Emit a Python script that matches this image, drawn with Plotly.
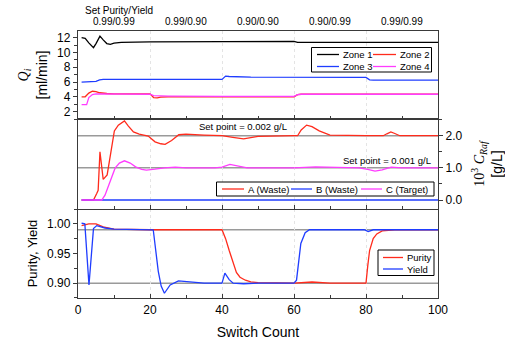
import plotly.graph_objects as go

# ---------------- data ----------------
# Top panel: flow rates Q_i [ml/min]
z1_x = [1, 2, 3, 4.3, 5, 6.1, 7, 8, 9, 10, 12, 20, 40, 60, 61, 100]
z1_y = [12.0, 11.9, 11.3, 10.65, 11.2, 12.2, 11.7, 11.2, 11.1, 11.25, 11.35, 11.42, 11.47, 11.5, 11.35, 11.35]
z2_x = [1, 2, 3, 4, 5, 6, 8, 10, 20, 21, 22, 23, 25, 60, 61, 62, 100]
z2_y = [4.0, 4.0, 4.5, 4.75, 4.7, 4.55, 4.45, 4.4, 4.4, 3.9, 3.85, 3.95, 4.0, 4.0, 4.3, 4.35, 4.35]
z3_x = [1, 4, 5, 6, 7, 40, 41, 42, 48, 80, 81, 82, 100]
z3_y = [6.0, 6.0, 6.1, 6.3, 6.35, 6.35, 6.8, 6.75, 6.65, 6.62, 6.3, 6.26, 6.26]
z4_x = [1, 2.4, 3, 4, 5, 10, 20, 21, 25, 40, 60, 61, 62, 100]
z4_y = [2.95, 2.95, 3.9, 4.3, 4.4, 4.35, 4.35, 4.15, 4.1, 4.05, 4.05, 4.3, 4.35, 4.35]

# Middle panel: 10^3 C_Raf [g/L]
a_x = [1, 4.3, 5.2, 5.6, 6.1, 7, 8.1, 9, 10.1, 11.2, 12.9, 14, 15.4, 17, 19.5, 21.4, 23, 24.2, 26, 28, 30,
       35, 40, 43, 46, 50, 55, 60, 61, 62, 63.5, 65, 67, 70, 80, 84.8, 85.8, 86.9, 88, 89.4, 100]
a_y = [0, 0, 0.2, 0.3, 1.5, 0.64, 0.78, 1.45, 2.15, 2.33, 2.46, 2.3, 2.12, 2.05, 1.99, 1.81, 1.75, 1.73, 1.85, 2.03, 2.05,
       2.02, 2.0, 1.95, 1.9, 1.98, 2.0, 2.0, 2.0, 2.18, 2.33, 2.28, 2.15, 2.02, 2.0, 2.0, 2.06, 2.12, 2.07, 2.0, 2.0]
b_x = [1, 20, 40, 60, 80, 100]
b_y = [0, 0, 0, 0, 0, 0]
c_x = [1, 6.6, 7.5, 8.5, 10.3, 11.5, 12.9, 14.5, 16, 17.7, 19, 21.4, 24, 27, 30, 38, 40, 42.2, 44, 47,
       55, 60, 66, 70, 75, 78, 80.5, 82.5, 84.5, 87, 90, 100]
c_y = [0, 0, 0.15, 0.45, 0.99, 1.15, 1.22, 1.15, 1.03, 0.95, 0.93, 0.96, 1.0, 1.02, 1.0, 1.0, 1.02, 1.11, 1.06, 1.0,
       1.0, 1.0, 1.03, 1.02, 1.0, 1.0, 0.95, 0.9, 0.94, 1.02, 1.0, 1.0]

# Bottom panel: purity & yield
pur_x = [1, 2, 3, 5, 7, 10, 20, 40, 41, 42, 43, 44, 45, 46.5, 48, 50, 60, 65, 70, 80, 80.5, 81, 82, 83, 84.5, 86, 88, 100]
pur_y = [0.997, 0.998, 1.0, 1.0, 0.995, 0.991, 0.99, 0.99, 0.975, 0.955, 0.935, 0.918, 0.91, 0.905, 0.902, 0.901,
         0.9, 0.902, 0.9, 0.9, 0.93, 0.955, 0.975, 0.983, 0.988, 0.989, 0.99, 0.99]
yld_x = [1, 1.9, 3.05, 4.3, 5.2, 7.5, 10, 20.9, 22.3, 23.1, 24, 25.6, 27.9, 30.6, 35, 40, 40.8, 42, 43.1, 46, 50,
         60, 60.7, 61.9, 63.1, 64.3, 70, 79.5, 80.6, 82, 100]
yld_y = [1.001, 1.0, 0.897, 0.992, 0.997, 0.993, 0.991, 0.99, 0.92, 0.895, 0.883, 0.897, 0.904, 0.902, 0.9, 0.9,
         0.917, 0.906, 0.9, 0.899, 0.9, 0.9, 0.905, 0.967, 0.985, 0.99, 0.99, 0.99, 0.987, 0.99, 0.99]

conc_setpoints = [2.0, 1.0]
py_setpoints = [0.99, 0.90]
segment_centers = [10, 30, 50, 70, 90]
segment_labels = ["0.99/0.99", "0.99/0.90", "0.90/0.90", "0.90/0.99", "0.99/0.99"]

# ---------------- style ----------------
BLACK = "#000000"
RED = "#ff2b1c"
BLUE = "#1f3dff"
MAG = "#ff3cff"
FONT = "Liberation Sans"
LW = 1.3
AXC = "#3a3a3a"

# plot-area geometry in pixels (for legend placement)
W, H = 505, 344
ML, MR, MT, MB = 78, 67, 31, 46
PW, PH = W - ML - MR, H - MT - MB


def px(xp):
    return (xp - ML) / PW


def py(yp):
    return (H - MB - yp) / PH


fig = go.Figure()

series = [
    # name, x, y, color, xaxis, yaxis
    ("Zone 1", z1_x, z1_y, BLACK, "x3", "y3"),
    ("Zone 2", z2_x, z2_y, RED, "x3", "y3"),
    ("Zone 4", z4_x, z4_y, MAG, "x3", "y3"),
    ("Zone 3", z3_x, z3_y, BLUE, "x3", "y3"),
    ("A (Waste)", a_x, a_y, RED, "x2", "y2"),
    ("B (Waste)", b_x, b_y, BLUE, "x2", "y2"),
    ("C (Target)", c_x, c_y, MAG, "x2", "y2"),
    ("Purity", pur_x, pur_y, RED, "x", "y"),
    ("Yield", yld_x, yld_y, BLUE, "x", "y"),
]
for name, xs, ys, col, xa, ya in series:
    fig.add_trace(go.Scatter(x=xs, y=ys, mode="lines", name=name, line=dict(color=col, width=LW),
                             xaxis=xa, yaxis=ya, showlegend=False))

shapes = []
annotations = []
for v in conc_setpoints:
    shapes.append(dict(type="line", xref="x2 domain", yref="y2", x0=0, x1=1, y0=v, y1=v,
                       line=dict(color="#9a9a9a", width=1.5), layer="below"))
for v in py_setpoints:
    shapes.append(dict(type="line", xref="x domain", yref="y", x0=0, x1=1, y0=v, y1=v,
                       line=dict(color="#9a9a9a", width=1.5), layer="below"))

LEG_FONT = 9.5


def draw_legend(box, items):
    """box = (x0, y0, x1, y1) in px; items = list of (name, color, line_x0, line_x1, text_x, row_y) px."""
    x0, y0, x1, y1 = box
    shapes.append(dict(type="rect", xref="paper", yref="paper", x0=px(x0), x1=px(x1), y0=py(y1), y1=py(y0),
                       line=dict(color=BLACK, width=1), fillcolor="white", layer="above"))
    for name, col, lx0, lx1, tx, ry in items:
        shapes.append(dict(type="line", xref="paper", yref="paper", x0=px(lx0), x1=px(lx1), y0=py(ry), y1=py(ry),
                           line=dict(color=col, width=1.3), layer="above"))
        annotations.append(dict(text=name, xref="paper", yref="paper", x=px(tx), y=py(ry), xanchor="left",
                                yanchor="middle", showarrow=False, font=dict(size=LEG_FONT, color=BLACK)))


draw_legend((311.5, 47.5, 431.5, 72),
            [("Zone 1", BLACK, 317, 339, 341, 54.5), ("Zone 2", RED, 373, 396, 398, 54.5),
             ("Zone 3", BLUE, 317, 339, 341, 66.5), ("Zone 4", MAG, 373, 396, 398, 66.5)])
draw_legend((216.5, 182, 434, 196),
            [("A (Waste)", RED, 222, 244, 246, 189), ("B (Waste)", BLUE, 291, 312, 314, 189),
             ("C (Target)", MAG, 361, 382, 384, 189)])
draw_legend((378, 250, 434, 275.5),
            [("Purity", RED, 383, 403, 405, 257.5), ("Yield", BLUE, 383, 403, 405, 269)])

annotations.append(dict(text="Set Purity/Yield", xref="paper", yref="paper", x=px(83), y=py(10), xanchor="left",
                        yanchor="middle", showarrow=False, font=dict(size=10, color=BLACK)))
for xc, lab in zip(segment_centers, segment_labels):
    annotations.append(dict(text=lab, xref="x3", yref="paper", x=xc, y=py(21.5), xanchor="center",
                            yanchor="middle", showarrow=False, font=dict(size=10, color=BLACK)))
annotations.append(dict(text="Set point = 0.002 g/L", xref="x2", yref="y2", x=45.8, y=conc_setpoints[0] + 0.28,
                        xanchor="center", yanchor="middle", showarrow=False, font=dict(size=9.5, color=BLACK)))
annotations.append(dict(text="Set point = 0.001 g/L", xref="x2", yref="y2", x=98.5, y=conc_setpoints[1] + 0.24,
                        xanchor="right", yanchor="middle", showarrow=False, font=dict(size=9.5, color=BLACK)))

xcommon = dict(range=[0, 100], showline=True, linecolor=AXC, linewidth=1.3,
               ticks="inside", ticklen=4, tickcolor=AXC, dtick=20, tick0=0, automargin=False,
               minor=dict(ticks="inside", ticklen=3, dtick=10, tickcolor=AXC),
               showgrid=True, gridcolor="#e4e4e4", griddash="dot", gridwidth=1, zeroline=False)
ycommon = dict(showline=True, linecolor=AXC, linewidth=1.3, mirror=True, ticks="outside", ticklen=4,
               tickcolor=AXC, showgrid=False, zeroline=False, automargin=False,
               tickfont=dict(size=12, color=BLACK))

fig.update_layout(
    width=W, height=H,
    margin=dict(l=ML, r=MR, t=MT, b=MB, autoexpand=False),
    paper_bgcolor="white", plot_bgcolor="white",
    font=dict(family=FONT, color=BLACK),
    showlegend=False,
    xaxis=dict(**xcommon, anchor="y", mirror=False, showticklabels=True, tickfont=dict(size=12, color=BLACK),
               title=dict(text="Switch Count", font=dict(size=14, color=BLACK), standoff=11)),
    xaxis2=dict(**xcommon, anchor="y2", mirror=True, matches="x", showticklabels=False),
    xaxis3=dict(**xcommon, anchor="y3", mirror=True, matches="x", showticklabels=False),
    yaxis=dict(**ycommon, domain=[0, 0.3333], range=[0.875, 1.025], dtick=0.05, tick0=0.9, tickformat=".2f",
               minor=dict(ticks="outside", ticklen=3, dtick=0.025, tickcolor=AXC),
               title=dict(text="Purity, Yield", font=dict(size=13, color=BLACK), standoff=6)),
    yaxis2=dict(**ycommon, domain=[0.3333, 0.6704], range=[-0.28, 2.52], side="right", dtick=1, tick0=0,
                tickformat=".1f", minor=dict(ticks="outside", ticklen=3, dtick=0.5, tickcolor=AXC),
                title=dict(text='<span style="font-family:Liberation Serif">10<sup>3</sup> <i>C</i><sub><i>Raf</i></sub></span><br>[g/L]',
                           font=dict(size=14, color=BLACK), standoff=14)),
    yaxis3=dict(**ycommon, domain=[0.6704, 1], range=[1, 12.9], dtick=2, tick0=0,
                minor=dict(ticks="outside", ticklen=3, dtick=1, tickcolor=AXC),
                title=dict(text='<span style="font-family:Liberation Serif"><i>Q</i><sub><i>i</i></sub></span><br>[ml/min]',
                           font=dict(size=14, color=BLACK), standoff=6)),
    shapes=shapes,
    annotations=annotations,
)

fig.write_html("out.html")
